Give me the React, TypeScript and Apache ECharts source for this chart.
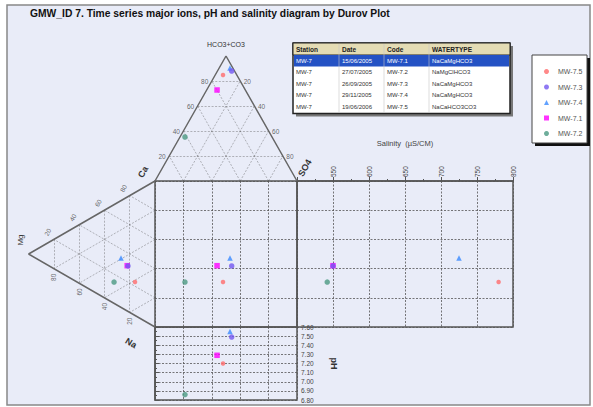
import React, { useEffect, useRef } from 'react';
import * as echarts from 'echarts';

const TITLE = 'GMW_ID 7. Time series major ions, pH and salinity diagram by Durov Plot';
const FONT = 'Liberation Sans, Arial, sans-serif';

// stations (legend order)
const stations = ['MW-7.5', 'MW-7.3', 'MW-7.4', 'MW-7.1', 'MW-7.2'];
// anions (%)
const hco3 = [84.8, 88, 90.4, 72.8, 35.2];
const so4 = [5.5, 10, 7.6, 7.3, 3.5];
const cl = [9.7, 2, 2, 19.9, 61.3];
// cations (%)
const mg = [15.8, 21.4, 26.9, 22, 32.4];
const na = [61.3, 47.5, 39.3, 47, 53];
const ca = [22.9, 31.1, 33.8, 31, 14.6];
// salinity (uS/cm) and pH
const salinity = [780, 550, 725, 550, 542];
const ph = [7.2, 7.49, 7.55, 7.29, 6.86];

// ternary grid levels
const triLevels = [20, 40, 60, 80];

// table
const tableHeader = ['Station', 'Date', 'Code', 'WATERTYPE'];
const tableStation = ['MW-7', 'MW-7', 'MW-7', 'MW-7', 'MW-7'];
const tableDate = ['15/06/2005', '27/07/2005', '26/09/2005', '29/11/2005', '19/06/2006'];
const tableCode = ['MW-7.1', 'MW-7.2', 'MW-7.3', 'MW-7.4', 'MW-7.5'];
const tableType = ['NaCaMgHCO3', 'NaMgClHCO3', 'NaCaMgHCO3', 'NaCaMgHCO3', 'NaCaHCO3CO3'];

const colors = ['#ff6b6b', '#7357f0', '#3b8bff', '#ff00ff', '#4b9a82'];
const symbols = ['circle', 'circle', 'triangle', 'rect', 'circle'];
const symbolSizes = [4.5, 5.5, 5.5, 5.5, 5.5];

const dash = { color: '#555', width: 0.8, type: [2, 1.5] as any };
const solid = { color: '#666', width: 1.5, type: 'solid' as any };

function buildOption() {
  const sqX = stations.map((_, i) => so4[i] + hco3[i] / 2);
  const sqY = stations.map((_, i) => na[i] + mg[i] / 2);

  const hiddenAxis = (gi: number, inverse = false) => ({
    gridIndex: gi, type: 'value', min: 0, max: 100, inverse, show: false,
  });
  const gridAxis = (gi: number, inverse = false) => ({
    gridIndex: gi, type: 'value', min: 0, max: 100, interval: 20, inverse,
    axisLine: { show: false }, axisTick: { show: false }, axisLabel: { show: false },
    splitLine: { show: true, lineStyle: dash },
  });

  // ternary segments
  const topSegs: any[] = [];
  triLevels.forEach((h) => topSegs.push({ coords: [[h / 2, h], [100 - h / 2, h]] }));
  triLevels.forEach((s) => topSegs.push({ coords: [[s, 0], [50 + s / 2, 100 - s]] }));
  triLevels.forEach((c) => topSegs.push({ coords: [[100 - c, 0], [(100 - c) / 2, 100 - c]] }));
  const leftSegs: any[] = [];
  triLevels.forEach((m) => leftSegs.push({ coords: [[m, m / 2], [m, 100 - m / 2]] }));
  triLevels.forEach((n) => leftSegs.push({ coords: [[0, n], [100 - n, n + (100 - n) / 2]] }));
  triLevels.forEach((c) => leftSegs.push({ coords: [[0, 100 - c], [100 - c, (100 - c) / 2]] }));

  const labelSeries = (xi: number, data: any[], rotate = 0) => ({
    type: 'scatter', xAxisIndex: xi, yAxisIndex: xi, symbolSize: 1, silent: true,
    itemStyle: { color: 'rgba(0,0,0,0)' }, z: 2,
    label: {
      show: true, position: 'inside', rotate, fontSize: 6.5, color: '#444', fontFamily: FONT,
      formatter: (p: any) => p.value[2],
    },
    data,
  });

  const series: any[] = [
    { type: 'lines', coordinateSystem: 'cartesian2d', xAxisIndex: 3, yAxisIndex: 3, silent: true, z: 1, lineStyle: dash, data: topSegs },
    { type: 'line', xAxisIndex: 3, yAxisIndex: 3, silent: true, z: 1, symbol: 'none', lineStyle: solid, data: [[0, 0], [50, 100], [100, 0]] },
    { type: 'lines', coordinateSystem: 'cartesian2d', xAxisIndex: 4, yAxisIndex: 4, silent: true, z: 1, lineStyle: dash, data: leftSegs },
    { type: 'line', xAxisIndex: 4, yAxisIndex: 4, silent: true, z: 1, symbol: 'none', lineStyle: solid, data: [[0, 0], [100, 50], [0, 100]] },
    labelSeries(3, triLevels.map((h) => [h / 2 - 5, h, String(h)])),
    labelSeries(3, triLevels.map((s) => [50 + s / 2 + 5, 100 - s, String(s)])),
    labelSeries(4, triLevels.map((c) => [100 - c + 5, (100 - c) / 2 - 5, String(c)]), 60),
    labelSeries(4, triLevels.map((m) => [m, 100 - m / 2 + 6, String(m)]), 90),
  ];

  stations.forEach((name, i) => {
    const base = {
      type: 'scatter', name, symbol: symbols[i], symbolSize: symbolSizes[i],
      itemStyle: { color: colors[i] }, z: name === 'MW-7.3' ? 4 : 3,
    };
    series.push({ ...base, xAxisIndex: 0, yAxisIndex: 0, data: [[sqX[i], sqY[i]]] });
    series.push({ ...base, xAxisIndex: 1, yAxisIndex: 1, data: [[salinity[i], sqY[i]]] });
    series.push({ ...base, xAxisIndex: 2, yAxisIndex: 2, data: [[sqX[i], ph[i]]] });
    series.push({ ...base, xAxisIndex: 3, yAxisIndex: 3, data: [[sqX[i], hco3[i]]] });
    series.push({ ...base, xAxisIndex: 4, yAxisIndex: 4, data: [[mg[i], sqY[i]]] });
  });

  // table graphics
  const TX = 293, TY = 43, TW = 217, HH = 12, RH = 11.5;
  const colOff = [3, 49, 94, 139];
  const rows = tableStation.map((s, i) => [s, tableDate[i], tableCode[i], tableType[i]]);
  const TH = HH + RH * rows.length + 1;
  const tableEls: any[] = [
    { type: 'rect', shape: { x: TX + 3, y: TY + 3, width: TW, height: TH }, style: { fill: '#777' }, z: 5 },
    { type: 'rect', shape: { x: TX, y: TY, width: TW, height: TH }, style: { fill: '#fff', stroke: '#222', lineWidth: 1.5 }, z: 5 },
    { type: 'rect', shape: { x: TX, y: TY, width: TW, height: HH }, style: { fill: '#e4dcb4', stroke: '#222', lineWidth: 1 }, z: 5 },
    { type: 'rect', shape: { x: TX + 1, y: TY + HH, width: TW - 2, height: RH }, style: { fill: '#2452c4' }, z: 5 },
  ];
  [46, 91, 136].forEach((o) => tableEls.push({
    type: 'line', shape: { x1: TX + o, y1: TY + 1, x2: TX + o, y2: TY + TH - 1 },
    style: { stroke: '#c8c8c8', lineWidth: 0.6 }, z: 6,
  }));
  tableHeader.forEach((h, c) => tableEls.push({
    type: 'text', x: TX + colOff[c], y: TY + HH / 2, z: 7,
    style: { text: h, fill: '#222', fontSize: 6.5, fontWeight: 'bold', fontFamily: FONT, align: 'left', verticalAlign: 'middle', textAlign: 'left', textVerticalAlign: 'middle' },
  }));
  rows.forEach((r, ri) => r.forEach((t, c) => tableEls.push({
    type: 'text', x: TX + colOff[c], y: TY + HH + RH * ri + RH / 2, z: 7,
    style: { text: t, fill: ri === 0 ? '#fff' : '#333', fontSize: 6, fontFamily: FONT, align: 'left', verticalAlign: 'middle', textAlign: 'left', textVerticalAlign: 'middle' },
  })));

  const txt = (text: string, x: number, y: number, fontSize: number, rot = 0, bold = false) => ({
    type: 'text', x, y, rotation: rot, z: 3,
    style: { text, fill: '#333', fontSize, fontWeight: bold ? 'bold' : 'normal', fontFamily: FONT, align: 'center', verticalAlign: 'middle', textAlign: 'center', textVerticalAlign: 'middle' },
  });

  return {
    animation: false,
    backgroundColor: '#ffffff',
    textStyle: { fontFamily: FONT },
    grid: [
      { left: 155, top: 181, width: 142, height: 146, show: true, borderColor: '#555', borderWidth: 1.5, backgroundColor: 'transparent' },
      { left: 297, top: 181, width: 216, height: 146, show: true, borderColor: '#555', borderWidth: 1.5, backgroundColor: 'transparent' },
      { left: 155, top: 327, width: 142, height: 73, show: true, borderColor: '#555', borderWidth: 1.5, backgroundColor: 'transparent' },
      { left: 155, top: 56, width: 142, height: 125, show: false },
      { left: 28.6, top: 181, width: 126.4, height: 146, show: false },
    ],
    xAxis: [
      gridAxis(0),
      {
        gridIndex: 1, type: 'value', min: 500, max: 800, interval: 50, position: 'top',
        name: 'Salinity  (µS/CM)', nameLocation: 'middle', nameGap: 34,
        nameTextStyle: { fontSize: 7.5, color: '#444', fontFamily: FONT },
        axisLine: { show: true, lineStyle: { color: '#555', width: 1.5 } },
        axisTick: { show: true, length: 4, lineStyle: { color: '#555' } },
        minorTick: { show: true, splitNumber: 2, length: 2, lineStyle: { color: '#555' } },
        axisLabel: { rotate: 90, fontSize: 6.5, color: '#444', showMinLabel: false, margin: 4, fontFamily: FONT },
        splitLine: { show: true, lineStyle: dash },
      },
      gridAxis(2),
      hiddenAxis(3),
      hiddenAxis(4, true),
    ],
    yAxis: [
      gridAxis(0, true),
      gridAxis(1, true),
      {
        gridIndex: 2, type: 'value', min: 6.8, max: 7.6, interval: 0.1, position: 'right',
        name: 'pH', nameLocation: 'middle', nameGap: 32, nameRotate: -90,
        nameTextStyle: { fontSize: 9, fontWeight: 'bold', color: '#333', fontFamily: FONT },
        axisLine: { show: true, lineStyle: { color: '#555', width: 1.5 } },
        axisTick: { show: true, length: 4, lineStyle: { color: '#555' } },
        minorTick: { show: true, splitNumber: 2, length: 2, lineStyle: { color: '#555' } },
        axisLabel: { fontSize: 6.5, color: '#444', margin: 4, fontFamily: FONT, formatter: (v: number) => v.toFixed(2) },
        splitLine: { show: true, lineStyle: dash },
      },
      hiddenAxis(3),
      hiddenAxis(4, true),
    ],
    legend: {
      data: stations, orient: 'vertical', left: 539, top: 63,
      itemWidth: 5, itemHeight: 5, itemGap: 8.5,
      textStyle: { fontSize: 7, color: '#555', fontFamily: FONT, padding: [0, 0, 0, 4] },
    },
    graphic: [
      { type: 'rect', shape: { x: 7, y: 5, width: 583, height: 400 }, style: { fill: '#e9ecf8', stroke: '#888', lineWidth: 1.5 }, z: -10, silent: true },
      { type: 'text', x: 30, y: 13, z: 3, style: { text: TITLE, fill: '#111', fontSize: 10.3, fontWeight: 'bold', fontFamily: FONT, align: 'left', verticalAlign: 'middle', textAlign: 'left', textVerticalAlign: 'middle' } },
      txt('HCO3+CO3', 226, 44, 7),
      txt('Mg', 20, 240, 8, Math.PI / 2),
      txt('Ca', 143, 172, 9, Math.PI / 3, true),
      txt('SO4', 305, 168, 9, Math.PI / 3, true),
      txt('Na', 131, 343, 9, -Math.PI / 6, true),
      { type: 'rect', shape: { x: 535, y: 58, width: 55, height: 88 }, style: { fill: '#111' }, z: 2 },
      { type: 'rect', shape: { x: 532, y: 55, width: 55, height: 88 }, style: { fill: '#fff', stroke: '#444', lineWidth: 1 }, z: 2 },
      ...tableEls,
    ],
    series,
  };
}

export default function App() {
  const ref = useRef<HTMLDivElement>(null);
  useEffect(() => {
    if (!ref.current) return;
    const chart = echarts.init(ref.current, undefined, { renderer: 'svg' });
    chart.setOption(buildOption() as any);
    return () => chart.dispose();
  }, []);
  return <div ref={ref} style={{ position: 'absolute', left: 0, top: 0, width: 593, height: 407 }} />;
}
